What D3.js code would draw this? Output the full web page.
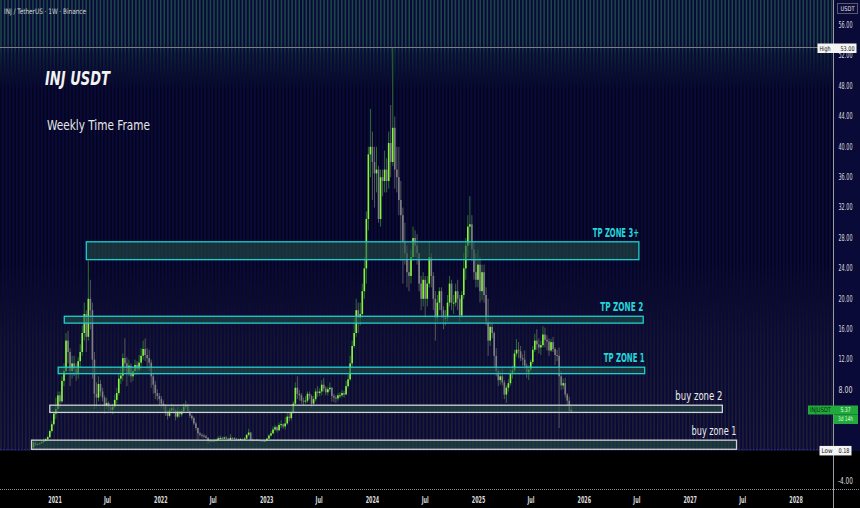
<!DOCTYPE html>
<html>
<head>
<meta charset="utf-8">
<script src="https://cdn.jsdelivr.net/npm/d3@7"></script>
<style>
  html, body { margin: 0; padding: 0; background: #000; }
  svg { display: block; }
  text { font-family: "DejaVu Sans Condensed", "DejaVu Sans", sans-serif; }
</style>
</head>
<body>
<svg id="chart" width="860" height="508"></svg>
<script>
// weekly candles, rows are [high, low, close]; open = previous close
const firstWeek = "2020-10-19";
const firstOpen = 0.45;

const w2020 = [[1.5,0.18,1.1],[1.2,0.65,0.8],[1.0,0.7,0.9],[1.1,0.85,1.0],[1.3,0.95,1.15],[1.6,1.0,1.3],
  [1.7,1.2,1.5],[2.0,1.4,1.8],[2.8,1.7,2.6],[3.9,2.4,3.5],[5.2,3.3,4.9]];

const w2021 = [[7.0,4.2,5.5],[7.8,5.0,7.3],[7.8,5.6,6.5],[9.8,6.3,9.2],
  [11.5,8.5,10.5],[15.5,10,14.5],[15.8,11.5,13],[13.5,8.5,10.5],
  [12.5,9.5,11.5],[12.5,9.8,10.8],[11.5,9.2,10.2],[12.3,9.5,11.8],[14,11,13],
  [16.5,12.5,15.5],[19.5,14.5,18],[18.5,13,15],[25,14.5,20],
  [22.5,16,18.5],[19.5,9.5,12],[13,5.5,7.5],[9,5.8,7.0],[9.8,6.5,8.8],
  [9.3,7.2,7.8],[8.3,6.5,7.0],[7.3,4.9,5.9],[7.0,5.5,6.3],
  [6.5,5.2,5.7],[6.0,5.0,5.4],[6.2,4.8,5.8],[7.4,5.6,6.7],
  [8.3,6.2,7.6],[10.2,7.3,9.5],[11,8.8,9.9],[12.8,9.2,12.2],[14.8,10.5,11.5],
  [12.3,8.5,10.2],[12,9.8,11.2],[11.5,9,9.8],[11,9.2,10.5],
  [12,10,11.3],[11.8,10,10.7],[12.6,10.3,11.6],[13.5,10.6,12.5],
  [14.5,12,13.4],[14.8,11.8,12.6],[13.5,10.8,12.2],[13.3,10.5,11.6],[12,8.3,9.8],
  [10.2,7.5,8.7],[9.2,6.8,7.6],[8.1,6.6,7.2],[7.6,6.0,6.8]];

const w2022 = [[7.2,5.7,6.2],[6.6,5.4,6.0],[6.1,4.6,5.0],[5.3,4.1,4.6],[5.6,4.4,5.3],
  [6.2,5.0,5.6],[5.9,4.9,5.3],[5.5,4.0,4.5],[5.8,4.3,5.2],
  [5.4,4.4,4.8],[5.5,4.5,5.2],[6.2,5.1,5.8],[6.6,5.5,6.0],
  [6.2,5.0,5.2],[5.3,4.3,4.6],[4.8,4.0,4.3],[4.5,3.4,3.6],
  [3.8,2.7,3.0],[3.1,1.5,2.3],[2.5,1.9,2.1],[2.3,1.7,2.0],[2.2,1.7,1.9],
  [2.1,1.6,1.7],[1.8,0.9,1.3],[1.5,1.2,1.35],[1.45,1.1,1.25],
  [1.5,1.2,1.35],[1.6,1.2,1.4],[1.9,1.35,1.65],[2.0,1.5,1.7],
  [1.85,1.5,1.6],[1.9,1.55,1.75],[1.9,1.5,1.6],[1.7,1.3,1.45],[2.2,1.4,1.7],
  [1.8,1.5,1.65],[1.8,1.4,1.6],[1.7,1.35,1.5],[1.6,1.35,1.5],
  [1.7,1.45,1.55],[1.6,1.35,1.45],[1.8,1.4,1.6],[2.2,1.55,2.1],[2.9,1.9,2.4],
  [2.5,1.2,1.4],[1.6,1.3,1.45],[1.5,1.25,1.4],[1.55,1.35,1.45],
  [1.5,1.25,1.35],[1.4,1.2,1.3],[1.35,1.15,1.25],[1.4,1.2,1.3]];

const w2023 = [[1.7,1.25,1.6],[2.2,1.55,2.0],[2.6,1.9,2.3],[3.2,2.2,2.8],[3.4,2.6,3.1],
  [3.3,2.4,2.7],[3.7,2.6,3.4],[4.0,3.0,3.5],[3.6,2.9,3.2],
  [4.4,2.8,3.6],[5.0,3.4,4.5],[5.0,3.9,4.3],[5.4,4.0,5.0],
  [6.5,4.9,6.2],[9.0,6.0,8.3],[9.8,6.8,7.5],[8.0,6.6,7.3],
  [7.6,6.2,6.6],[7.0,6.0,6.5],[7.2,6.2,6.6],[7.8,6.3,7.5],[7.8,6.8,7.2],
  [7.4,5.7,6.2],[7.2,5.9,6.8],[8.2,6.5,7.8],[8.5,7.1,7.6],
  [8.2,7.2,7.8],[9.3,7.3,8.7],[9.6,7.8,8.2],[8.5,7.3,7.7],[8.4,7.3,8.1],
  [9.0,7.8,8.3],[8.4,6.5,7.2],[7.5,6.4,7.0],[7.3,6.3,6.9],
  [7.6,6.6,7.3],[7.7,6.9,7.3],[8.0,7.1,7.6],[7.9,7.0,7.4],
  [9.2,7.4,8.5],[10,8.3,9.4],[12.5,9.2,11.5],[14.5,11,13.8],[17.5,13.5,15.5],
  [20,15,18.5],[19.5,15.5,17.5],[19.5,16.5,18],[22,17.5,21],
  [25.5,20,24],[31.5,22,30.5],[40,29,39],[45,36,40]];

const w2024 = [[42,33,38],[40,32,36.5],[40,34,37],[37.5,30,30.5],[37,29.5,36],
  [37,33.5,35.5],[39.5,34,37],[38.5,34,35.5],[42,34.5,40.5],
  [45.5,36,38],[53,37.5,42.5],[44,34.5,37],[40,34,36],
  [40,31,33],[35.5,25,31],[32,22,27.5],[30,24.5,26],[27,21.5,23.5],
  [25,21,23],[26.5,22,25.5],[29.5,25,28],[29,25.5,27],
  [28.5,24.5,26],[26,21,22],[23,18.5,20],[23.5,19,22.5],
  [23,17.5,20],[23,19,22],[27.5,21.5,25.5],[26,21.5,23],[23.5,18.5,20],
  [21,14.5,17.5],[20.5,17,19.5],[21.5,18.5,21],[21.5,17.5,18.5],
  [19,16,17.5],[18.5,16.5,17.5],[20.5,17,19.5],[23,19,22],[22.5,18.5,19.5],
  [20.5,18,19.5],[22,19,21],[22.5,18.5,20],[20.5,17,17.8],
  [21,17.5,20.5],[26,20,24],[28,22.5,27],[31,25.5,29.5],
  [33.5,27,29.8],[31,25,26.5],[27.5,22.5,23.5],[26,21.5,22.5],[26.5,21.5,24.5]];

const w2025 = [[25.5,19.5,21],[24.5,19.8,23.5],[24.5,19.5,20.5],[21.5,16.5,17],
  [20,12.5,14.5],[17,13.8,16.3],[16.8,14.8,15.5],[15.7,11,12.5],
  [13.5,9.8,10.5],[10.8,8.5,9.3],[10.5,8.7,9.8],[10.8,8.6,9.0],[9.3,6.8,7.4],
  [8.6,6.3,8.3],[9.4,7.8,8.9],[10.7,8.6,10.2],[11.2,9.5,10.6],
  [13.3,10.2,12.8],[14.7,12.4,13.3],[14.3,12.2,13.1],[13.8,11.8,12.2],
  [12.7,11.2,12.0],[13.2,10.8,11.2],[11.5,9.6,10.3],[11.2,9.3,10.7],[12.0,10.4,11.7],
  [13.8,11.4,13.3],[15.4,13.0,14.5],[16.0,13.3,14.0],[14.8,12.8,13.6],
  [14.5,12.6,13.9],[16.4,13.6,15.3],[16.2,13.6,14.6],[15.2,13.2,14.4],
  [14.8,12.5,13.2],[14.7,13.0,14.3],[15.0,13.0,13.4],[13.6,11.3,12.6],[13.3,11.8,12.5],
  [13.6,3.0,9.8],[10.5,8.0,8.6],[9.5,8.1,8.9],[9.6,7.0,7.4],
  [7.6,6.0,6.6],[7.1,5.0,5.2],[5.9,5.1,5.37]];

// drawn zones
const zoneNames  = ["TP ZONE 3+", "TP ZONE 2", "TP ZONE 1", "buy zone 2", "buy zone 1"];
const zoneTop    = [27.5, 17.7, 11.0, 6.0, 1.4];
const zoneBottom = [25.15, 16.8, 10.15, 5.05, 0.2];
const zoneFrom   = ["2021-04-19", "2021-02-02", "2021-01-12", "2020-12-14", "2020-10-12"];
const zoneTo     = ["2026-07-08", "2026-07-23", "2026-07-28", "2027-04-22", "2027-06-10"];
const zoneKind   = ["tp", "tp", "tp", "buy", "buy"];

// 4.00 and 0.00 sit under the price badges, so they are not shown
const priceTicks = [56, 52, 48, 44, 40, 36, 32, 28, 24, 20, 16, 12, 8, -4];
const timeTickDates = ["2021-01-01","2021-07-01","2022-01-01","2022-07-01","2023-01-01","2023-07-01",
  "2024-01-01","2024-07-01","2025-01-01","2025-07-01","2026-01-01","2026-07-01","2027-01-01","2027-07-01","2028-01-01"];
const timeTickLabels = ["2021","Jul","2022","Jul","2023","Jul","2024","Jul","2025","Jul","2026","Jul","2027","Jul","2028"];

const allTimeHigh = 53.00;
const allTimeLow = 0.18;
const lastPrice = 5.37;

// ---------------------------------------------------------------
const svg = d3.select("#chart");
const W = 860, H = 508, axisX = 833.5;
const parse = d3.utcParse("%Y-%m-%d");

const x = d3.scaleUtc()
  .domain([parse("2021-01-01"), parse("2028-01-01")])
  .range([55, 796]);
const y = d3.scaleLinear().domain([56, -4]).range([25.2, 481.2]);

const start = parse(firstWeek);
const rows = [].concat(w2020, w2021, w2022, w2023, w2024, w2025);
const candles = rows.map((r, i) => ({
  date: d3.utcDay.offset(start, 7 * i),
  open: i === 0 ? firstOpen : rows[i - 1][2],
  high: r[0], low: r[1], close: r[2]
}));

// background
svg.append("rect").attr("width", W).attr("height", H).attr("fill", "#000");
svg.append("rect").attr("width", W).attr("height", y(0)).attr("fill", "#0a0a3a");

const defs = svg.append("defs");
const g1 = defs.append("linearGradient").attr("id", "stripeGrad")
  .attr("gradientUnits", "userSpaceOnUse")
  .attr("x1", 0).attr("y1", 0).attr("x2", 0).attr("y2", y(0));
[[0, "#1b4846"], [0.095, "#1b4846"], [0.12, "#0e2833"], [0.2, "#03031a"],
 [0.58, "#03031a"], [0.75, "#15152b"], [1, "#202034"]]
  .forEach(s => g1.append("stop").attr("offset", s[0]).attr("stop-color", s[1]));

svg.append("g")
  .selectAll("line")
  .data(d3.range(1, axisX - 1, 3.55))
  .join("line")
  .attr("x1", d => d).attr("x2", d => d)
  .attr("y1", 0).attr("y2", y(0))
  .attr("stroke", "url(#stripeGrad)")
  .attr("stroke-width", 1.5);

// high / low lines
svg.append("line").attr("x1", 0).attr("x2", axisX).attr("y1", y(allTimeHigh) - 0.5).attr("y2", y(allTimeHigh) - 0.5)
  .attr("stroke", "#7d7d85").attr("stroke-width", 1);
svg.append("line").attr("x1", 0).attr("x2", axisX).attr("y1", y(allTimeLow)).attr("y2", y(allTimeLow))
  .attr("stroke", "#2c2c8a").attr("stroke-width", 1).attr("stroke-dasharray", "1.5,1.5");

// candles
const step = x(d3.utcDay.offset(start, 7)) - x(start);
const cg = svg.append("g");
cg.selectAll("line")
  .data(candles)
  .join("line")
  .attr("x1", d => x(d.date)).attr("x2", d => x(d.date))
  .attr("y1", d => y(d.high)).attr("y2", d => y(d.low))
  .attr("stroke", d => d.close >= d.open ? "#2a6e35" : "#55555c")
  .attr("stroke-width", 1);
cg.selectAll("rect")
  .data(candles)
  .join("rect")
  .attr("x", d => x(d.date) - step * 0.4)
  .attr("width", step * 0.8)
  .attr("y", d => y(Math.max(d.open, d.close)))
  .attr("height", d => Math.max(1, Math.abs(y(d.open) - y(d.close))))
  .attr("fill", d => d.close >= d.open ? "#86f53a" : "#7e7e86");

// zones
const zones = zoneNames.map((n, i) => ({
  name: n, top: zoneTop[i], bottom: zoneBottom[i],
  from: parse(zoneFrom[i]), to: parse(zoneTo[i]), kind: zoneKind[i]
}));
const labelWidths = [46, 43, 41, 47, 45];
const zg = svg.append("g");
zg.selectAll("rect")
  .data(zones)
  .join("rect")
  .attr("x", d => x(d.from)).attr("width", d => x(d.to) - x(d.from))
  .attr("y", d => y(d.top)).attr("height", d => y(d.bottom) - y(d.top))
  .attr("fill", "#244f46").attr("fill-opacity", 0.6)
  .attr("stroke", d => d.kind === "tp" ? "#1ccfd0" : "#cfd0d4")
  .attr("stroke-width", 1.3);
zg.selectAll("text")
  .data(zones)
  .join("text")
  .attr("x", d => x(d.to)).attr("y", d => y(d.top) - 5)
  .attr("text-anchor", "end")
  .attr("font-size", 12)
  .attr("font-weight", d => d.kind === "tp" ? "bold" : "normal")
  .attr("fill", d => d.kind === "tp" ? "#22d8d8" : "#ececec")
  .attr("textLength", (d, i) => labelWidths[i])
  .attr("lengthAdjust", "spacingAndGlyphs")
  .text(d => d.name);

// titles
svg.append("text").attr("x", 4).attr("y", 13.5).attr("font-size", 7.5).attr("fill", "#d6d6d6")
  .attr("textLength", 82).attr("lengthAdjust", "spacingAndGlyphs")
  .text("INJ / TetherUS · 1W · Binance");
svg.append("text").attr("x", 45).attr("y", 85).attr("font-size", 19).attr("font-weight", "bold")
  .attr("font-style", "italic").attr("fill", "#f2f2f2")
  .attr("textLength", 65).attr("lengthAdjust", "spacingAndGlyphs").text("INJ USDT");
svg.append("text").attr("x", 47).attr("y", 130).attr("font-size", 14).attr("fill", "#e6e6e6")
  .attr("textLength", 103).attr("lengthAdjust", "spacingAndGlyphs").text("Weekly Time Frame");

// right price axis
svg.append("rect").attr("x", axisX).attr("y", 0).attr("width", W - axisX).attr("height", y(0))
  .attr("fill", "#0a0a38");
svg.append("line").attr("x1", axisX).attr("x2", axisX).attr("y1", 0).attr("y2", H)
  .attr("stroke", "#9a9aa0").attr("stroke-width", 1);
svg.append("g")
  .selectAll("text")
  .data(priceTicks)
  .join("text")
  .attr("x", 845.5).attr("y", d => y(d) + 2.8)
  .attr("text-anchor", "middle").attr("font-size", 8).attr("fill", "#dcdcdc")
  .attr("textLength", d => d < 0 ? 15 : 14).attr("lengthAdjust", "spacingAndGlyphs")
  .text(d => d.toFixed(2));

// bottom time axis
svg.append("line").attr("x1", 0).attr("x2", W).attr("y1", 489.5).attr("y2", 489.5)
  .attr("stroke", "#8a8a90").attr("stroke-width", 1).attr("stroke-dasharray", "1,1");
svg.append("g")
  .selectAll("text")
  .data(timeTickDates)
  .join("text")
  .attr("x", d => x(parse(d))).attr("y", 502.5)
  .attr("text-anchor", "middle").attr("font-size", 8).attr("font-weight", "bold").attr("fill", "#dcdcdc")
  .attr("textLength", (d, i) => timeTickLabels[i] === "Jul" ? 7 : 13.5)
  .attr("lengthAdjust", "spacingAndGlyphs")
  .text((d, i) => timeTickLabels[i]);

// axis badges
svg.append("rect").attr("x", 837.5).attr("y", 3.5).attr("width", 20).attr("height", 10)
  .attr("fill", "#0b0b3e").attr("stroke", "#5a5a66");
svg.append("text").attr("x", 847.5).attr("y", 11).attr("text-anchor", "middle")
  .attr("font-size", 6.5).attr("fill", "#e0e0e0").attr("textLength", 14).attr("lengthAdjust", "spacingAndGlyphs").text("USDT");

function badge(x0, yc, w, label, value) {
  svg.append("rect").attr("x", x0).attr("y", yc - 4.5).attr("width", w).attr("height", 9.5).attr("fill", "#f4f4f4");
  svg.append("text").attr("x", x0 + 2).attr("y", yc + 2.5).attr("font-size", 6.5).attr("fill", "#111")
    .attr("textLength", 11).attr("lengthAdjust", "spacingAndGlyphs").text(label);
  svg.append("text").attr("x", x0 + w - 2).attr("y", yc + 2.5).attr("text-anchor", "end")
    .attr("font-size", 6.5).attr("fill", "#111").attr("textLength", value.length > 4 ? 14 : 11)
    .attr("lengthAdjust", "spacingAndGlyphs").text(value);
}
badge(817.5, y(allTimeHigh), 39, "High", allTimeHigh.toFixed(2));
badge(819.5, y(allTimeLow) + 1, 32, "Low", allTimeLow.toFixed(2));

const ly = y(lastPrice);
svg.append("rect").attr("x", 808).attr("y", ly - 4.5).attr("width", 50).attr("height", 9).attr("fill", "#22a93c");
svg.append("rect").attr("x", axisX).attr("y", ly + 4.5).attr("width", 24.5).attr("height", 9.5).attr("fill", "#22a93c");
svg.append("text").attr("x", 810).attr("y", ly + 2.5).attr("font-size", 6.5).attr("fill", "#0a2a10")
  .attr("textLength", 21).attr("lengthAdjust", "spacingAndGlyphs").text("INJUSDT");
svg.append("text").attr("x", 845.5).attr("y", ly + 2.5).attr("text-anchor", "middle").attr("font-size", 6.5)
  .attr("fill", "#f0fff0").attr("textLength", 10).attr("lengthAdjust", "spacingAndGlyphs").text(lastPrice.toFixed(2));
svg.append("text").attr("x", 845.5).attr("y", ly + 11.5).attr("text-anchor", "middle").attr("font-size", 6.5)
  .attr("fill", "#d8ffd8").attr("textLength", 15).attr("lengthAdjust", "spacingAndGlyphs").text("3d 14h");
</script>
</body>
</html>
